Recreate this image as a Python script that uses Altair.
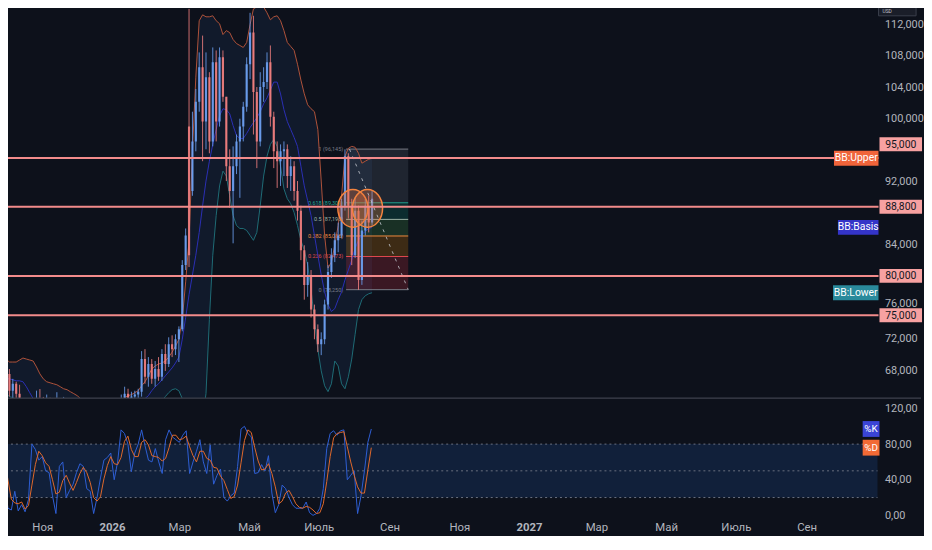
import altair as alt
import pandas as pd

# ---------------- data ----------------
start_date = "2025-09-26"
step_days = 3

open_prices = [
    69420, 67530, 65390, 66270, 65020, 63700, 62500, 61700, 60800, 62700,
    64000, 63400, 62800, 63900, 62300, 63500, 64100, 61900, 63600, 61500,
    60400, 60800, 61200, 60000, 59300, 60600, 61100, 59600, 58300, 60000,
    61400, 62500, 63000, 63600, 62300, 64300, 65000, 64390, 64640, 64900,
    65270, 69420, 67160, 68790, 66900, 68160, 67160, 70050, 68790, 71310,
    70680, 71940, 73200, 81380, 99010, 90820, 97120, 102160, 106560, 99640,
    105300, 97120, 107190, 99640, 107820, 102790, 93970, 90820, 93970, 97120,
    99010, 101530, 106940, 110970, 103410, 97120, 104040, 104670, 107190, 100270,
    95860, 94600, 95860, 96110, 92710, 93970, 90820, 88310, 83270, 78860,
    80120, 75720, 73200, 71310, 71940, 76350, 80500, 82640, 84530, 85160,
    88940, 95230, 88940, 82640, 88310, 79490, 85790, 88940, 86790]
high_prices = [
    70050, 68160, 66900, 66530, 66150, 64400, 63300, 62500, 63000, 65400,
    65600, 64600, 64900, 64500, 64000, 65200, 64400, 64600, 64000, 62500,
    61700, 62000, 62400, 61200, 61200, 62000, 62400, 60400, 60400, 61800,
    63000, 63800, 64200, 64000, 64900, 65900, 65640, 65260, 65390, 65640,
    70430, 70680, 69670, 69420, 69170, 69670, 70680, 71310, 72190, 72440,
    72570, 73580, 82010, 86040, 113990, 100900, 103790, 108450, 110590, 108450,
    105930, 109080, 108700, 109080, 108700, 102790, 96110, 96490, 98000, 100010,
    102160, 107820, 113490, 113110, 104040, 105930, 106560, 108450, 109330, 100900,
    97120, 96740, 97120, 96740, 95230, 94600, 92080, 88940, 83900, 81760,
    80750, 76350, 73830, 72820, 76980, 81380, 83520, 85540, 86790, 89820,
    96110, 95610, 89820, 89940, 88940, 87050, 89820, 90200, 90820]
low_prices = [
    66900, 64640, 63760, 64390, 63100, 62000, 61200, 60300, 60000, 62200,
    63000, 62000, 62300, 61900, 61500, 62700, 61300, 61400, 60800, 59300,
    58700, 59500, 59400, 58100, 58300, 59400, 58700, 58000, 58200, 59800,
    61000, 61600, 62200, 61800, 62000, 63600, 63760, 63130, 63760, 64130,
    64640, 66270, 65900, 66270, 65900, 66650, 66650, 67910, 68410, 69670,
    69930, 69040, 72950, 80750, 81130, 90200, 95860, 100900, 94600, 96120,
    95610, 96490, 97120, 99010, 102160, 92080, 88680, 84150, 92960, 89940,
    97120, 100900, 105050, 98000, 93720, 96490, 102160, 103790, 99010, 93720,
    91200, 91450, 92710, 91200, 90820, 89570, 87050, 82010, 76980, 77350,
    74710, 71940, 70300, 69920, 71310, 75720, 79750, 81760, 83020, 84780,
    88310, 87300, 81380, 82270, 78230, 78860, 85160, 85540, 86420]
close_prices = [
    67530, 65390, 66270, 65020, 63700, 62500, 61700, 60800, 62700, 64000,
    63400, 62800, 63900, 62300, 63500, 64100, 61900, 63600, 61500, 60400,
    60800, 61200, 60000, 59300, 60600, 61100, 59600, 58300, 60000, 61400,
    62500, 63000, 63600, 62300, 64300, 65000, 64390, 64640, 64900, 65270,
    69420, 67160, 68790, 66900, 68160, 67160, 70050, 68790, 71310, 70680,
    71940, 73200, 81380, 85160, 82640, 97120, 102160, 106560, 99640, 105300,
    97120, 107190, 99640, 107820, 102790, 93970, 90820, 93970, 97120, 99010,
    101530, 106940, 110970, 103410, 97120, 104040, 104670, 107190, 100270, 95860,
    94600, 95860, 96110, 92710, 93970, 90820, 88310, 83270, 78860, 80120,
    75720, 73200, 71310, 71940, 76350, 80500, 82640, 84530, 85160, 88940,
    95230, 88940, 82640, 88310, 79490, 85790, 88940, 86790, 89820]
bb_upper = [
    69420, 69040, 69040, 69040, 69300, 69550, 69420, 69300, 69170, 68410,
    67530, 66900, 66530, 66400, 66270, 66150, 65900, 65640, 65520, 65260,
    65020, 64760, 64390, 64010, 63630, 63380, 63130, 62870, 62750, 62750,
    62870, 63130, 63380, 63760, 64130, 64510, 64760, 64890, 65140, 65390,
    66020, 66530, 67280, 68160, 68540, 68790, 68920, 69170, 69670, 70300,
    71060, 71940, 74460, 79240, 84530, 95860, 105300, 112480, 113230, 112980,
    112980, 113110, 112480, 112100, 110720, 111220, 110970, 110090, 109580, 109330,
    109080, 109710, 111980, 113990, 114240, 114370, 114240, 113490, 112600, 112980,
    113110, 112480, 111220, 109710, 109210, 108700, 106940, 104930, 103170, 101780,
    101280, 100900, 98630, 92080, 85160, 81000, 81760, 83900, 86420, 90200,
    95230, 96240, 96490, 96370, 95610, 94350, 94600, 94850, 94980]
bb_basis = [
    66900, 66900, 66780, 66650, 66650, 66530, 65900, 65140, 64390, 63760,
    63130, 62620, 62120, 61740, 61360, 61110, 60860, 60610, 60360, 60230,
    60100, 60100, 60100, 59980, 59980, 60100, 60100, 60230, 60360, 60610,
    60860, 61110, 61490, 61870, 62250, 62620, 62870, 63130, 63380, 63630,
    64010, 64390, 64760, 65390, 65900, 66270, 66780, 67280, 67790, 68290,
    68920, 69670, 71940, 74710, 77610, 80120, 82640, 85540, 88940, 92080,
    94600, 96740, 98630, 100390, 101280, 101150, 100640, 99130, 97870, 97500,
    97500, 98130, 98880, 99510, 100140, 100900, 101910, 102660, 103670, 104670,
    104670, 103160, 101150, 99640, 98630, 97620, 96490, 93970, 91450, 89570,
    87680, 85160, 82640, 80120, 77980, 76350, 75470, 75840, 76980, 77980,
    79490, 80750, 82010, 83520, 84530, 85290, 85670, 86040, 86170]
bb_lower = [
    65020, 64640, 64510, 64260, 64010, 63510, 62370, 60990, 59600, 59100,
    58720, 58340, 57710, 57080, 56450, 56080, 55820, 55570, 55190, 55190,
    55190, 55450, 55820, 55950, 56330, 56830, 57080, 57590, 57970, 58470,
    58850, 59100, 59600, 59980, 60360, 60730, 60990, 61360, 61620, 61870,
    62000, 62250, 62250, 62620, 63250, 63760, 64130, 64640, 65140, 65520,
    65640, 65390, 64390, 61870, 59350, 58090, 58720, 60610, 61870, 65020,
    74460, 82640, 87680, 91450, 93340, 92710, 90200, 87680, 86420, 86040,
    86040, 85790, 85160, 84530, 85540, 88940, 92710, 95230, 96740, 97370,
    96490, 93970, 91080, 89820, 89190, 88060, 86420, 84530, 83270, 81380,
    78230, 74460, 70680, 67910, 66020, 65270, 66270, 69170, 68540, 66270,
    65640, 67160, 69420, 72570, 75720, 76980, 77480, 77730, 77860]
stoch_k = [
    86, 40, 8, 6, 27, 5, 12, 4, 18, 80,
    74, 62, 66, 50, 48, 22, 2, 55, 60, 20,
    28, 35, 48, 58, 55, 30, 27, 2, 20, 42,
    62, 65, 70, 40, 60, 96, 92, 80, 49, 70,
    80, 96, 78, 62, 60, 75, 60, 47, 85, 96,
    88, 85, 82, 90, 95, 47, 60, 72, 85, 60,
    47, 79, 35, 45, 52, 20, 16, 22, 25, 55,
    97, 100, 92, 88, 47, 48, 57, 50, 67, 25,
    3, 12, 34, 30, 20, 12, 8, 8, 8, 15,
    3, 0, 2, 8, 30, 75, 92, 95, 90, 95,
    96, 40, 45, 50, 2, 22, 50, 82, 97]
stoch_d = [
    88, 62, 40, 18, 14, 13, 15, 7, 11, 34,
    57, 72, 67, 59, 55, 40, 24, 26, 39, 45,
    36, 28, 37, 47, 54, 48, 37, 20, 16, 21,
    41, 56, 66, 58, 57, 65, 83, 89, 74, 66,
    66, 82, 85, 79, 67, 66, 65, 61, 64, 76,
    90, 90, 85, 86, 89, 77, 67, 60, 72, 72,
    64, 62, 54, 53, 44, 39, 29, 19, 21, 34,
    59, 84, 96, 93, 76, 61, 51, 52, 58, 47,
    32, 13, 16, 25, 28, 21, 13, 9, 8, 10,
    9, 6, 2, 3, 13, 38, 66, 87, 92, 93,
    94, 77, 60, 45, 32, 25, 25, 51, 76]

price_levels = [95000, 88800, 80000, 75000]
# axis labels that are not covered by the price tags
price_ticks = [68000, 72000, 76000, 84000, 92000, 100000, 104000, 108000, 112000]
stoch_ticks = [0, 40, 80, 120]
stoch_guides = [80, 50, 20]
stoch_band = [20, 80]

fib_ratios = [1, 0.618, 0.5, 0.382, 0.236, 0]
fib_prices = [96145, 89309, 87198, 85086, 82473, 78250]
fib_start, fib_end = "2026-07-24", "2026-09-17"
diag_dates = ["2026-07-27", "2026-09-17"]
diag_prices = [96145, 78250]
circle_dates = ["2026-07-30", "2026-08-12"]
circle_prices = [88600, 88600]

# ---------------- style ----------------
BG = "#0d111b"
BB_FILL = "#111a2b"
UP = "#6c9ff0"
DOWN = "#f07e7e"
UPPER_C = "#b0533b"
BASIS_C = "#2c30b5"
LOWER_C = "#1f6c76"
LEVEL_C = "#f28b8b"
TAG_FILL = "#f7a1a1"
AXIS_TXT = "#b2b5be"
K_C = "#2f5fd6"
D_C = "#e2692c"
FONT = "Roboto"
fib_line_colors = ["#787b86", "#22a391", "#9db3a6", "#f0883e", "#e0474f", "#787b86"]
fib_zone_colors = ["#6b7785", "#089981", "#4caf50", "#ff9800", "#f23645"]

W, H1, H2 = 886, 399, 121
PRICE_DOM = [64511, 114745]
STOCH_DOM = [-4.44, 130.0]

# ---------------- frames ----------------
n = len(close_prices)
dates = pd.date_range(start_date, periods=n, freq=f"{step_days}D")
candles = pd.DataFrame({
    "date": dates, "open": open_prices, "high": high_prices, "low": low_prices,
    "close": close_prices, "upper": bb_upper, "basis": bb_basis, "lower": bb_lower,
    "k": stoch_k, "d": stoch_d})

fs, fe = pd.Timestamp(fib_start), pd.Timestamp(fib_end)
fib_lvl = pd.DataFrame({
    "start": [fs] * len(fib_prices), "end": [fe] * len(fib_prices),
    "price": fib_prices,
    "label": [f"{r:g} ({p:,})" for r, p in zip(fib_ratios, fib_prices)],
    "c": fib_line_colors})
fib_zones = pd.DataFrame({
    "start": [fs] * (len(fib_prices) - 1), "end": [fe] * (len(fib_prices) - 1),
    "top": fib_prices[:-1], "bottom": fib_prices[1:], "c": fib_zone_colors})
diag = pd.DataFrame({"date": pd.to_datetime(diag_dates), "price": diag_prices})
circles = pd.DataFrame({"date": pd.to_datetime(circle_dates), "price": circle_prices})
levels = pd.DataFrame({"price": price_levels, "label": [f"{p:,}" for p in price_levels]})
one = pd.DataFrame({"a": [0]})

# ---------------- scales / axes ----------------
xs = alt.Scale(domain=[alt.DateTime(year=2025, month=9, date=26),
                       alt.DateTime(year=2027, month=11, date=2)])
ys = alt.Scale(domain=PRICE_DOM, nice=False, zero=False)
ss = alt.Scale(domain=STOCH_DOM, nice=False, zero=False)

ax_p = alt.Axis(orient="right", values=price_ticks, format=",d", labelColor=AXIS_TXT,
                labelFont=FONT, labelFontSize=11, labelPadding=7, ticks=False,
                labelOffset=alt.condition("datum.value == 76000", alt.value(-4), alt.value(0)),
                domain=False, grid=False, title=None)
ax_s = alt.Axis(orient="right", values=stoch_ticks,
                labelExpr="replace(format(datum.value, '.2f'), '.', ',')",
                labelColor=AXIS_TXT, labelFont=FONT, labelFontSize=11, labelPadding=7,
                ticks=False, domain=False, grid=False, title=None)
month_vals = [alt.DateTime(year=y, month=m, date=1) for y, m in
              [(2025, 11), (2026, 1), (2026, 3), (2026, 5), (2026, 7), (2026, 9),
               (2026, 11), (2027, 1), (2027, 3), (2027, 5), (2027, 7), (2027, 9)]]
ax_x = alt.Axis(values=month_vals,
                labelExpr="month(datum.value) == 0 ? timeFormat(datum.value, '%Y') : "
                          "['Янв','Фев','Мар','Апр','Май','Июнь','Июль','Авг','Сен','Окт','Ноя','Дек'][month(datum.value)]",
                labelFontWeight=alt.condition("month(datum.value) == 0", alt.value("bold"), alt.value("normal")),
                labelColor=AXIS_TXT, labelFont=FONT, labelFontSize=11.5, labelPadding=2,
                ticks=False, domain=False, grid=False, title=None)


def Xt(f="date"):
    return alt.X(f"{f}:T", scale=xs, axis=None, title=None)


def Xb(f="date"):
    return alt.X(f"{f}:T", scale=xs, axis=ax_x, title=None)


def Yp(f):
    return alt.Y(f"{f}:Q", scale=ys, axis=ax_p, title=None)


def Ys(f):
    return alt.Y(f"{f}:Q", scale=ss, axis=ax_s, title=None)


candle_color = alt.condition("datum.close >= datum.open", alt.value(UP), alt.value(DOWN))
base = alt.Chart(candles)
ELLIPSE = "M0,-1A0.8,1 0 1,1 0,1A0.8,1 0 1,1 0,-1Z"

top_layers = [
    base.mark_area(color=BB_FILL, clip=True).encode(x=Xt(), y=Yp("upper"), y2="lower"),
    alt.Chart(fib_zones).mark_rect(opacity=0.2).encode(
        x=Xt("start"), x2="end", y=Yp("top"), y2="bottom", color=alt.Color("c:N", scale=None)),
    alt.Chart(fib_lvl).mark_rule(strokeWidth=1).encode(
        x=Xt("start"), x2="end", y=Yp("price"), color=alt.Color("c:N", scale=None)),
    alt.Chart(fib_lvl).mark_text(align="right", baseline="middle", dx=-3, fontSize=5.5, font=FONT).encode(
        x=Xt("start"), y=Yp("price"), text="label:N", color=alt.Color("c:N", scale=None)),
    base.mark_line(color=UPPER_C, strokeWidth=1, clip=True).encode(x=Xt(), y=Yp("upper")),
    base.mark_line(color=BASIS_C, strokeWidth=1, clip=True).encode(x=Xt(), y=Yp("basis")),
    base.mark_line(color=LOWER_C, strokeWidth=1, clip=True).encode(x=Xt(), y=Yp("lower")),
    base.mark_rule(strokeWidth=1, opacity=0.85, clip=True).encode(
        x=Xt(), y=Yp("low"), y2="high", color=candle_color),
    base.mark_bar(width=2.2, opacity=0.9, clip=True).encode(
        x=Xt(), y=Yp("open"), y2="close", color=candle_color),
    alt.Chart(circles).mark_point(shape=ELLIPSE, size=1444, filled=True, fill="#e8703a",
                                  fillOpacity=0.3, stroke="#f5843f", strokeWidth=1.5,
                                  opacity=1).encode(x=Xt(), y=Yp("price")),
    alt.Chart(diag).mark_line(color="#c9ccd4", strokeDash=[3, 5], strokeWidth=1, opacity=0.8).encode(
        x=Xt(), y=Yp("price")),
    alt.Chart(levels).mark_rule(color=LEVEL_C, strokeWidth=2).encode(
        x=alt.value(0), x2=alt.value(887), y=Yp("price")),
    alt.Chart(one).mark_rule(color="#4b4f5c", strokeWidth=1).encode(
        x=alt.value(0), x2=alt.value(930), y=alt.value(399.5)),
]

# price tags on the axis
for i in range(len(levels)):
    off = -14 if i == 0 else 0
    d = levels.iloc[[i]]
    top_layers.append(alt.Chart(d).mark_rect(color=TAG_FILL, yOffset=off - 7, y2Offset=off + 7).encode(
        x=alt.value(888), x2=alt.value(931), y=Yp("price"), y2="price"))
    top_layers.append(alt.Chart(d).mark_text(color="#131722", fontSize=10.5, font=FONT, align="center",
                                             baseline="middle", yOffset=off + 0.5).encode(
        x=alt.value(909.5), y=Yp("price"), text="label:N"))

# BB labels at the last values
bb_labels = [("BB:Upper", bb_upper[-1], "#f0643a", 842), ("BB:Basis", bb_basis[-1], "#3434c8", 846),
             ("BB:Lower", bb_lower[-1], "#2a8a9c", 841)]
for name, val, col, x0 in bb_labels:
    d = pd.DataFrame({"price": [val], "label": [name]})
    top_layers.append(alt.Chart(d).mark_rect(color=col, yOffset=-7.5, y2Offset=7.5).encode(
        x=alt.value(x0), x2=alt.value(887), y=Yp("price"), y2="price"))
    top_layers.append(alt.Chart(d).mark_text(color="#ffffff", fontSize=10.5, font=FONT, align="center",
                                             baseline="middle").encode(
        x=alt.value((x0 + 887) / 2), y=Yp("price"), text="label:N"))

# USD box
top_layers.append(alt.Chart(one).mark_rect(fill="#1a1e29", stroke="#3a3f4b", strokeWidth=1).encode(
    x=alt.value(887), x2=alt.value(925), y=alt.value(3), y2=alt.value(13)))
top_layers.append(alt.Chart(pd.DataFrame({"t": ["USD"]})).mark_text(
    color="#c0c3cc", fontSize=5, font=FONT, align="left", baseline="middle").encode(
    x=alt.value(891), y=alt.value(8), text="t:N"))

top = alt.layer(*top_layers).properties(width=W, height=H1)

# ---------------- stochastic pane ----------------
band = pd.DataFrame({"lo": [stoch_band[0]], "hi": [stoch_band[1]]})
guides = pd.DataFrame({"v": stoch_guides})
bottom_layers = [
    alt.Chart(band).mark_rect(color="#11203a").encode(
        x=alt.value(0), x2=alt.value(W), y=Ys("lo"), y2="hi"),
    alt.Chart(guides).mark_rule(color="#6a7080", strokeDash=[2, 3], strokeWidth=1).encode(
        x=alt.value(0), x2=alt.value(W), y=Ys("v")),
    base.mark_line(color=K_C, strokeWidth=1, clip=True).encode(x=Xb(), y=Ys("k")),
    base.mark_line(color=D_C, strokeWidth=1, clip=True).encode(x=Xb(), y=Ys("d")),
]
for name, val, col in [("%K", stoch_k[-1], "#3a44d6"), ("%D", stoch_d[-1], "#f26a35")]:
    d = pd.DataFrame({"v": [val], "label": [name]})
    bottom_layers.append(alt.Chart(d).mark_rect(color=col, yOffset=-8, y2Offset=8).encode(
        x=alt.value(871), x2=alt.value(888), y=Ys("v"), y2="v"))
    bottom_layers.append(alt.Chart(d).mark_text(color="#ffffff", fontSize=10, font=FONT, align="center",
                                                baseline="middle").encode(
        x=alt.value(879.5), y=Ys("v"), text="label:N"))

bottom = alt.layer(*bottom_layers).properties(width=W, height=H2)

chart = alt.vconcat(top, bottom, spacing=1).properties(
    background=BG, padding={"left": -8, "top": -8, "right": 0, "bottom": 0}
).configure_view(strokeWidth=0)

chart.save("out.html", embed_options={"renderer": "svg", "actions": False})
